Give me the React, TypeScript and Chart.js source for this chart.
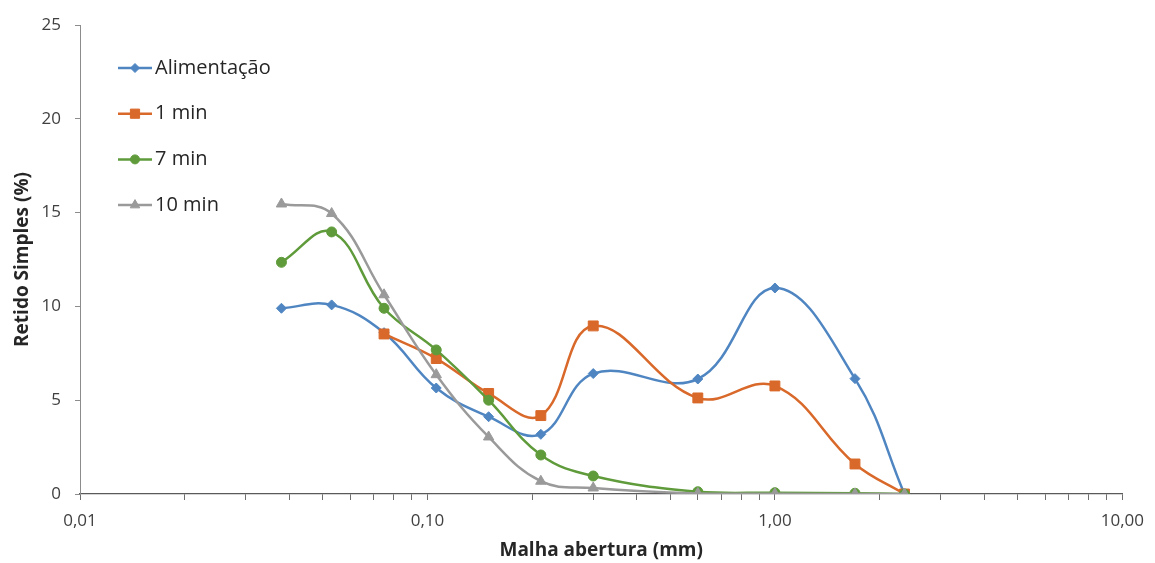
import React, { useEffect, useRef } from 'react';
import { Chart, registerables } from 'chart.js';
import { drawPoint } from 'chart.js/helpers';

Chart.register(...registerables);

// Sieve openings (mm)
const sizes = [0.038, 0.053, 0.075, 0.106, 0.15, 0.212, 0.3, 0.6, 1.0, 1.7, 2.36];
// Retido simples (%)
const alimentacao = [9.9, 10.08, 8.6, 5.65, 4.12, 3.18, 6.42, 6.13, 10.98, 6.15, 0];
const min1 = [null, null, 8.53, 7.22, 5.36, 4.18, 8.96, 5.12, 5.76, 1.6, 0];
const min7 = [12.35, 13.97, 9.9, 7.68, 5.0, 2.08, 0.96, 0.12, 0.07, 0.04, 0];
const min10 = [15.46, 14.95, 10.62, 6.36, 3.04, 0.68, 0.32, 0.03, 0.01, 0, 0];

const seriesLabels = ['Alimentação', '1 min', '7 min', '10 min'];
const seriesColors = ['#4f86c2', '#d9692a', '#5f9b3b', '#9a9a9a'];
const seriesPointStyles = ['rectRot', 'rect', 'circle', 'triangle'];
const seriesPointRadius = [5, 7, 5, 6];

const xMajorTicks = [0.01, 0.1, 1, 10];
const yMin = 0;
const yMax = 25;
const yStep = 5;

const xTitle = 'Malha abertura (mm)';
const yTitle = 'Retido Simples (%)';

const FONT = '"Open Sans", "Liberation Sans", sans-serif';

// minor + major tick values for the log axis
const xTickValues: number[] = [];
xMajorTicks.forEach((d, i) => {
  if (i === xMajorTicks.length - 1) {
    xTickValues.push(d);
  } else {
    for (let k = 1; k <= 9; k++) xTickValues.push(Number((d * k).toPrecision(6)));
  }
});

const insideLegend = {
  id: 'insideLegend',
  afterDatasetsDraw(chart: any) {
    const { ctx, chartArea } = chart;
    const x0 = chartArea.left + 38;
    const x1 = x0 + 34;
    chart.data.datasets.forEach((ds: any, i: number) => {
      const y = chartArea.top + 43 + i * 45.7;
      ctx.save();
      ctx.strokeStyle = ds.borderColor;
      ctx.lineWidth = ds.borderWidth;
      ctx.beginPath();
      ctx.moveTo(x0, y);
      ctx.lineTo(x1, y);
      ctx.stroke();
      ctx.fillStyle = ds.pointBackgroundColor;
      ctx.strokeStyle = ds.pointBorderColor;
      ctx.lineWidth = 1;
      drawPoint(ctx, { pointStyle: ds.pointStyle, radius: ds.pointRadius - 0.5, borderWidth: 1, rotation: 0 } as any, (x0 + x1) / 2, y);
      ctx.fillStyle = '#262626';
      ctx.font = `20px ${FONT}`;
      ctx.textAlign = 'left';
      ctx.textBaseline = 'middle';
      ctx.fillText(ds.label, x1 + 3, y);
      ctx.restore();
    });
  },
};

function makeData(values: (number | null)[]) {
  return sizes.map((s, i) => ({ x: s, y: values[i] }));
}

export default function App() {
  const canvasRef = useRef<HTMLCanvasElement>(null);

  useEffect(() => {
    const canvas = canvasRef.current;
    if (!canvas) return;
    const allSeries = [alimentacao, min1, min7, min10];
    const chart = new Chart(canvas, {
      type: 'line',
      data: {
        datasets: allSeries.map((vals, i) => ({
          label: seriesLabels[i],
          data: makeData(vals),
          borderColor: seriesColors[i],
          backgroundColor: seriesColors[i],
          pointBackgroundColor: seriesColors[i],
          pointBorderColor: seriesColors[i],
          pointStyle: seriesPointStyles[i],
          pointRadius: seriesPointRadius[i],
          pointBorderWidth: 1,
          borderWidth: 2.5,
          tension: 0.4,
          fill: false,
          order: allSeries.length - 1 - i,
        })) as any,
      },
      options: {
        animation: false,
        responsive: false,
        maintainAspectRatio: false,
        layout: { padding: { top: 25, right: 32, bottom: 0, left: 0 } },
        plugins: {
          legend: { display: false },
          tooltip: { enabled: false },
          title: { display: false },
        },
        scales: {
          x: {
            type: 'logarithmic',
            min: xMajorTicks[0],
            max: xMajorTicks[xMajorTicks.length - 1],
            afterBuildTicks: (axis: any) => {
              axis.ticks = xTickValues.map((v) => ({ value: v }));
            },
            afterFit: (axis: any) => {
              axis.height = 69;
            },
            ticks: {
              autoSkip: false,
              maxRotation: 0,
              padding: 11,
              color: '#404040',
              font: { family: FONT, size: 17 },
              callback: (value: any) => {
                const v = Number(value);
                return xMajorTicks.some((m) => Math.abs(m - v) < 1e-9)
                  ? v.toFixed(2).replace('.', ',')
                  : '';
              },
            },
            grid: {
              display: true,
              drawOnChartArea: false,
              drawTicks: true,
              tickLength: 6,
              color: '#6e6e6e',
            },
            border: { display: true, color: '#5a5a5a', width: 1.3 },
            title: {
              display: true,
              text: xTitle,
              color: '#262626',
              font: { family: FONT, size: 19, weight: 'bold' },
              padding: { top: 0, bottom: 1 },
            },
          },
          y: {
            type: 'linear',
            min: yMin,
            max: yMax,
            afterFit: (axis: any) => {
              axis.width = 80;
            },
            ticks: {
              stepSize: yStep,
              padding: 14,
              color: '#404040',
              font: { family: FONT, size: 17 },
            },
            grid: {
              display: true,
              drawOnChartArea: false,
              drawTicks: true,
              tickLength: 5,
              color: '#8c8c8c',
            },
            border: { display: true, color: '#8c8c8c', width: 1 },
            title: {
              display: true,
              text: yTitle,
              color: '#262626',
              font: { family: FONT, size: 19, weight: 'bold' },
              padding: { top: 11, bottom: 0 },
            },
          },
        },
      },
      plugins: [insideLegend],
    });
    return () => chart.destroy();
  }, []);

  return (
    <div style={{ position: 'fixed', left: 0, top: 0, width: 1155, height: 563, background: '#fff' }}>
      <canvas ref={canvasRef} width={1155} height={563} style={{ display: 'block', width: 1155, height: 563 }} />
    </div>
  );
}
